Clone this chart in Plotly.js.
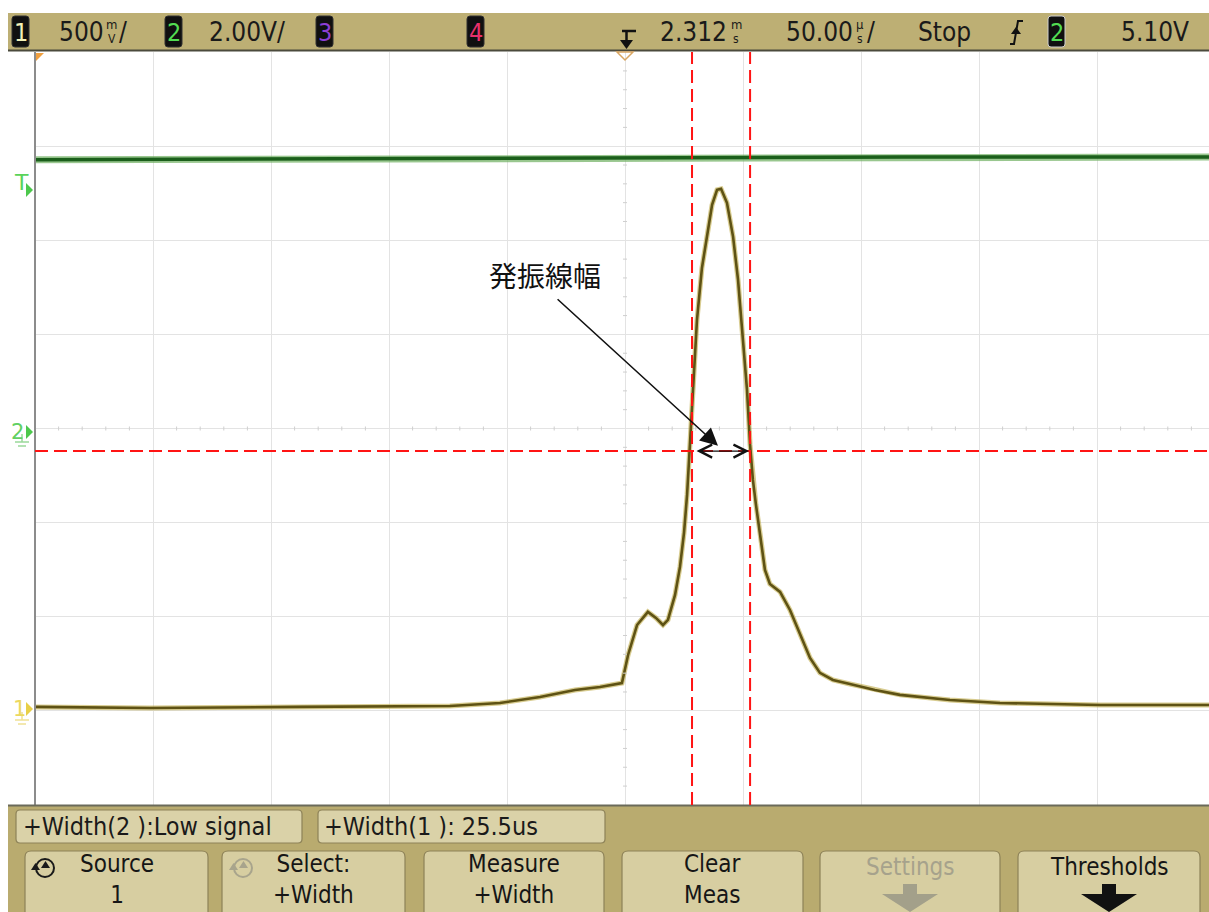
<!DOCTYPE html>
<html><head><meta charset="utf-8">
<script src="https://cdn.plot.ly/plotly-3.0.1.min.js"></script>
<style>html,body{margin:0;padding:0;background:#fff}</style>
</head><body><div id="chart" style="width:1209px;height:912px"></div>
<script>
// ---------- data (time in µs relative to screen centre, volts) ----------
const ch1Time  = [-250,-201.3,-137.7,-74.2,-53.0,-36.0,-21.2,-10.6,-1.3,1.3,5.1,9.7,13.1,16.1,18.2,21.2,23.3,25.0,26.3,27.5,28.8,30.5,32.6,34.7,36.9,39.0,40.7,43.2,45.8,47.9,50.0,51.7,53.0,54.2,55.5,57.2,59.3,61.4,65.7,69.9,74.2,78.4,82.6,88.1,95.3,105.9,116.5,137.7,158.9,201.3,247.5];
const ch1Volts = [0.021,0.015,0.021,0.026,0.042,0.074,0.111,0.127,0.148,0.297,0.456,0.526,0.494,0.456,0.483,0.616,0.765,0.945,1.147,1.402,1.652,2.077,2.353,2.528,2.688,2.768,2.773,2.699,2.518,2.289,1.987,1.705,1.413,1.227,1.094,0.945,0.749,0.674,0.632,0.536,0.404,0.281,0.202,0.164,0.143,0.111,0.085,0.058,0.042,0.031,0.031];
const ch2Time  = [-250,-140,-10,118,247.5];
const ch2Volts = [5.71,5.73,5.75,5.77,5.77];
const cursorTimes = [28.4, 53.0];   // µs
const cursorLevel = 1.38;           // V (ch1)
const labelText = '発振線幅';
const labelPos = [-33.9, 2.316];
const arrowTail = [-29.2, 2.194];
const arrowHead = [39.4, 1.408];
const measLabels = ['+Width(2 ):Low signal', '+Width(1 ): 25.5us'];
const buttonLabels = [['Source','1'],['Select:','+Width'],['Measure','+Width'],['Clear','Meas'],['Settings',''],['Thresholds','']];
const timeDiv = 50, ch1Div = 0.5, ch2Div = 2.0;

// ---------- geometry helpers ----------
const L=35, T=52, W=1174, H=753;
const P = px => (px - L)/W;
const Q = py => (T + H - py)/H;
const NARROW = 'DejaVu Sans Condensed, Liberation Sans Narrow, sans-serif';
const shapes = [], anns = [];
function txt(px, py, text, size, color, anchor, family){
  anns.push({xref:'paper', yref:'paper', x:P(px), y:Q(py), text:text, showarrow:false,
    xanchor:anchor||'left', yanchor:'middle', font:{size:size, color:color||'#1a1a1a', family:family||NARROW}});
}
function rect(x0,y0,x1,y1,fill,lc,lw){
  shapes.push({type:'rect', xref:'paper', yref:'paper', x0:P(x0), x1:P(x1), y0:Q(y1), y1:Q(y0),
    fillcolor:fill, line:{color:lc||'rgba(0,0,0,0)', width:lw||0}});
}
function rrPath(x0,y0,x1,y1,r){
  const rx=r/W, ry=r/H, a=P(x0), b=P(x1), t=Q(y0), bo=Q(y1);
  return `M${a+rx},${t} L${b-rx},${t} Q${b},${t} ${b},${t-ry} L${b},${bo+ry} Q${b},${bo} ${b-rx},${bo} L${a+rx},${bo} Q${a},${bo} ${a},${bo+ry} L${a},${t-ry} Q${a},${t} ${a+rx},${t} Z`;
}
function rrect(x0,y0,x1,y1,r,fill,lc,lw){
  shapes.push({type:'path', xref:'paper', yref:'paper', path:rrPath(x0,y0,x1,y1,r), fillcolor:fill, line:{color:lc||'rgba(0,0,0,0)', width:lw||0}});
}
function poly(pts, fill, lc, lw){
  const d = 'M' + pts.map(p => P(p[0])+','+Q(p[1])).join(' L') + (fill ? ' Z' : '');
  shapes.push({type:'path', xref:'paper', yref:'paper', path:d, fillcolor:fill||'rgba(0,0,0,0)', line:{color:lc||'rgba(0,0,0,0)', width:lw||0}});
}
function line(x0,y0,x1,y1,c,w){
  shapes.push({type:'line', xref:'paper', yref:'paper', x0:P(x0), x1:P(x1), y0:Q(y0), y1:Q(y1), line:{color:c, width:w}});
}
function circle(cx,cy,r,c,w){
  shapes.push({type:'circle', xref:'paper', yref:'paper', x0:P(cx-r), x1:P(cx+r), y0:Q(cy+r), y1:Q(cy-r), line:{color:c, width:w}});
}

// ---------- centre-line minor ticks ----------
for (let k=-25; k<=25; k++){ const x=625+k*118/5; if (k%5) line(x,426.5,x,430.5,'#cfcfcf',1); }
for (let k=-20; k<=20; k++){ const y=428.5+k*94.1/5; if (k%5) line(623,y,627,y,'#cfcfcf',1); }

// ---------- left border ----------
line(35,52,35,805,'#8c8c8c',2);

// ---------- top status bar ----------
const TOP = 26;
rect(8,13,1209,50,'#bdaf74');
line(8,50.5,1209,50.5,'#4b4a3c',2);
const chanBoxes = [[12,'1','#f3f1b8'],[165,'2','#52dc52'],[316,'3','#8c3fd4'],[467,'4','#e8306c'],[1048,'2','#52dc52']];
chanBoxes.forEach(b => { rrect(b[0],16,b[0]+17,47,3,'#101010', b[0]===1048?'#cfcfcf':'#303030',1); txt(b[0]+8.5,32,b[1],25,b[2],'center'); });
txt(106,32,'500',TOP,null,'right');  txt(111.5,24,'m',13,null,'center'); txt(111.5,39,'V',12,null,'center'); txt(117,32,'/',TOP);
txt(207,32,'2.00V/',TOP);
// trigger-position glyph
line(622,31,636,31,'#111',2.5); line(626.5,31,626.5,42,'#111',2.5);
poly([[620,40],[633,40],[626.5,49]],'#111');
txt(729,32,'2.312',TOP,null,'right'); txt(736,24,'m',13,null,'center'); txt(736,39,'s',12,null,'center');
txt(855,32,'50.00',TOP,null,'right'); txt(860,24,'µ',13,null,'center'); txt(860,39,'s',12,null,'center'); txt(865,32,'/',TOP);
txt(916,32,'Stop',TOP);
// trigger slope glyph
poly([[1010,44],[1014,44],[1018,21],[1023,21]],null,'#111',2);
poly([[1011,34],[1021,34],[1016,27]],'#111');
txt(1119,32,'5.10V',TOP);

// ---------- left markers ----------
poly([[36,53],[44,53],[36,61]],'#f0a040');
poly([[617,52],[633,52],[625,60]],'rgba(255,255,255,0)','#d9a662',1.5);
txt(12,183,'T',22,'#5ad35a','left','DejaVu Sans');
poly([[26,183],[33,190],[26,197]],'#4cc84c');
txt(9,432,'2',21,'#62d062','left','DejaVu Sans');
poly([[26,425],[33,432],[26,439]],'#4cc84c');
line(22,434,22,442,'#9ad89a',1.5); line(15,442,29,442,'#9ad89a',1.5); line(18,446,26,446,'#9ad89a',1.5);
txt(11,709,'1',21,'#ecd85e','left','DejaVu Sans');
poly([[26,702],[33,709],[26,716]],'#e8cf48');
line(22,712,22,720,'#efe094',1.5); line(15,720,29,720,'#efe094',1.5); line(18,724,26,724,'#efe094',1.5);

// ---------- bottom softkey panel ----------
const BOT = 25;
rect(8,806,1209,912,'#b9ab6f');
line(8,805.5,1209,805.5,'#6a6a5a',2);
rrect(16,810,302,843,4,'#dad2a8','#8d8258',1.2);
rrect(318,810,605,843,4,'#dad2a8','#8d8258',1.2);
txt(21,826,measLabels[0],BOT);
txt(322,826,measLabels[1],BOT);
const btnX = [[25,208],[222,405],[424,604],[622,803],[820,1000],[1018,1200]];
btnX.forEach((bx,i) => {
  rrect(bx[0],851,bx[1],918,6,'#d7cea1','#8d8258',1.2);
  const cx=(bx[0]+bx[1])/2;
  const col = i===4 ? '#a6a28c' : '#161616';
  const lbl = buttonLabels[i][1] ? buttonLabels[i][0] + '<br>' + buttonLabels[i][1] : buttonLabels[i][0];
  anns.push({xref:'paper', yref:'paper', x:P(cx), y:Q(buttonLabels[i][1] ? 880 : 867), text:lbl, showarrow:false,
    xanchor:'center', yanchor:'middle', align:'center', font:{size:24, color:col, family:NARROW}});
});
// knob icons
[[45,'#1a1a1a'],[243,'#a8a48c']].forEach(ic => {
  circle(ic[0],868,9,ic[1],2);
  poly([[ic[0]-14,870],[ic[0]-5,870],[ic[0]-9.5,863]],ic[1]);
  poly([[ic[0]-4,868],[ic[0]+5,868],[ic[0]+0.5,861]],ic[1]);
});
// down arrows
[[910,'#a3a08a'],[1109,'#111111']].forEach(a => {
  const c=a[0]; poly([[c-7,884],[c+7,884],[c+7,894],[c+28,894],[c,912],[c-28,894],[c-7,894]],a[1]);
});

// ---------- cursors ----------
cursorTimes.forEach(t => shapes.push({type:'line', xref:'x', yref:'paper', x0:t, x1:t, y0:0, y1:1,
  line:{color:'#ff1414', width:2, dash:'13px,6px'}}));
shapes.push({type:'line', xref:'paper', yref:'y', x0:0, x1:1, y0:cursorLevel, y1:cursorLevel,
  line:{color:'#ff1414', width:2, dash:'13px,6px'}});

// ---------- annotation ----------
anns.push({x:labelPos[0], y:labelPos[1], xref:'x', yref:'y', text:labelText, showarrow:false,
  font:{size:28, color:'#111', family:'Noto Sans CJK JP'}});
anns.push({x:arrowHead[0], y:arrowHead[1], ax:arrowTail[0], ay:arrowTail[1], xref:'x', yref:'y', axref:'x', ayref:'y',
  text:'', showarrow:true, arrowhead:2, arrowsize:2.2, arrowwidth:1.6, arrowcolor:'#111'});
anns.push({x:cursorTimes[1], y:cursorLevel, ax:cursorTimes[0], ay:cursorLevel, xref:'x', yref:'y', axref:'x', ayref:'y',
  text:'', showarrow:true, arrowhead:5, startarrowhead:5, arrowside:'end+start', arrowsize:2.1, startarrowsize:2.1,
  arrowwidth:1.2, arrowcolor:'#111', standoff:1, startstandoff:3});

// ---------- traces ----------
const traces = [
  {x:ch2Time, y:ch2Volts, yaxis:'y2', mode:'lines', line:{color:'rgba(110,175,95,0.7)', width:7}, hoverinfo:'skip'},
  {x:ch2Time, y:ch2Volts, yaxis:'y2', mode:'lines', line:{color:'#1b5f1b', width:3.5}, hoverinfo:'skip'},
  {x:ch1Time, y:ch1Volts, mode:'lines', line:{color:'rgba(190,170,70,0.6)', width:5}, hoverinfo:'skip'},
  {x:ch1Time, y:ch1Volts, mode:'lines', line:{color:'#5e5214', width:2.6}, hoverinfo:'skip'}
];

const layout = {
  width:1209, height:912, margin:{l:L, r:0, t:T, b:912-T-H, pad:0},
  paper_bgcolor:'#ffffff', plot_bgcolor:'#ffffff', showlegend:false,
  xaxis:{range:[-250, -250 + W/118*timeDiv], dtick:timeDiv, tick0:0, showgrid:true, gridcolor:'#e3e3e3', gridwidth:1,
    zeroline:false, showticklabels:false, ticks:'', showline:false, fixedrange:true},
  yaxis:{range:[-ch1Div, 7*ch1Div], dtick:ch1Div, tick0:0, showgrid:true, gridcolor:'#e3e3e3', gridwidth:1,
    zeroline:false, showticklabels:false, ticks:'', showline:false, fixedrange:true},
  yaxis2:{range:[-4*ch2Div, 4*ch2Div], overlaying:'y', visible:false, showgrid:false, zeroline:false, fixedrange:true},
  shapes:shapes, annotations:anns
};
Plotly.newPlot('chart', traces, layout, {displayModeBar:false, staticPlot:true});
</script></body></html>
